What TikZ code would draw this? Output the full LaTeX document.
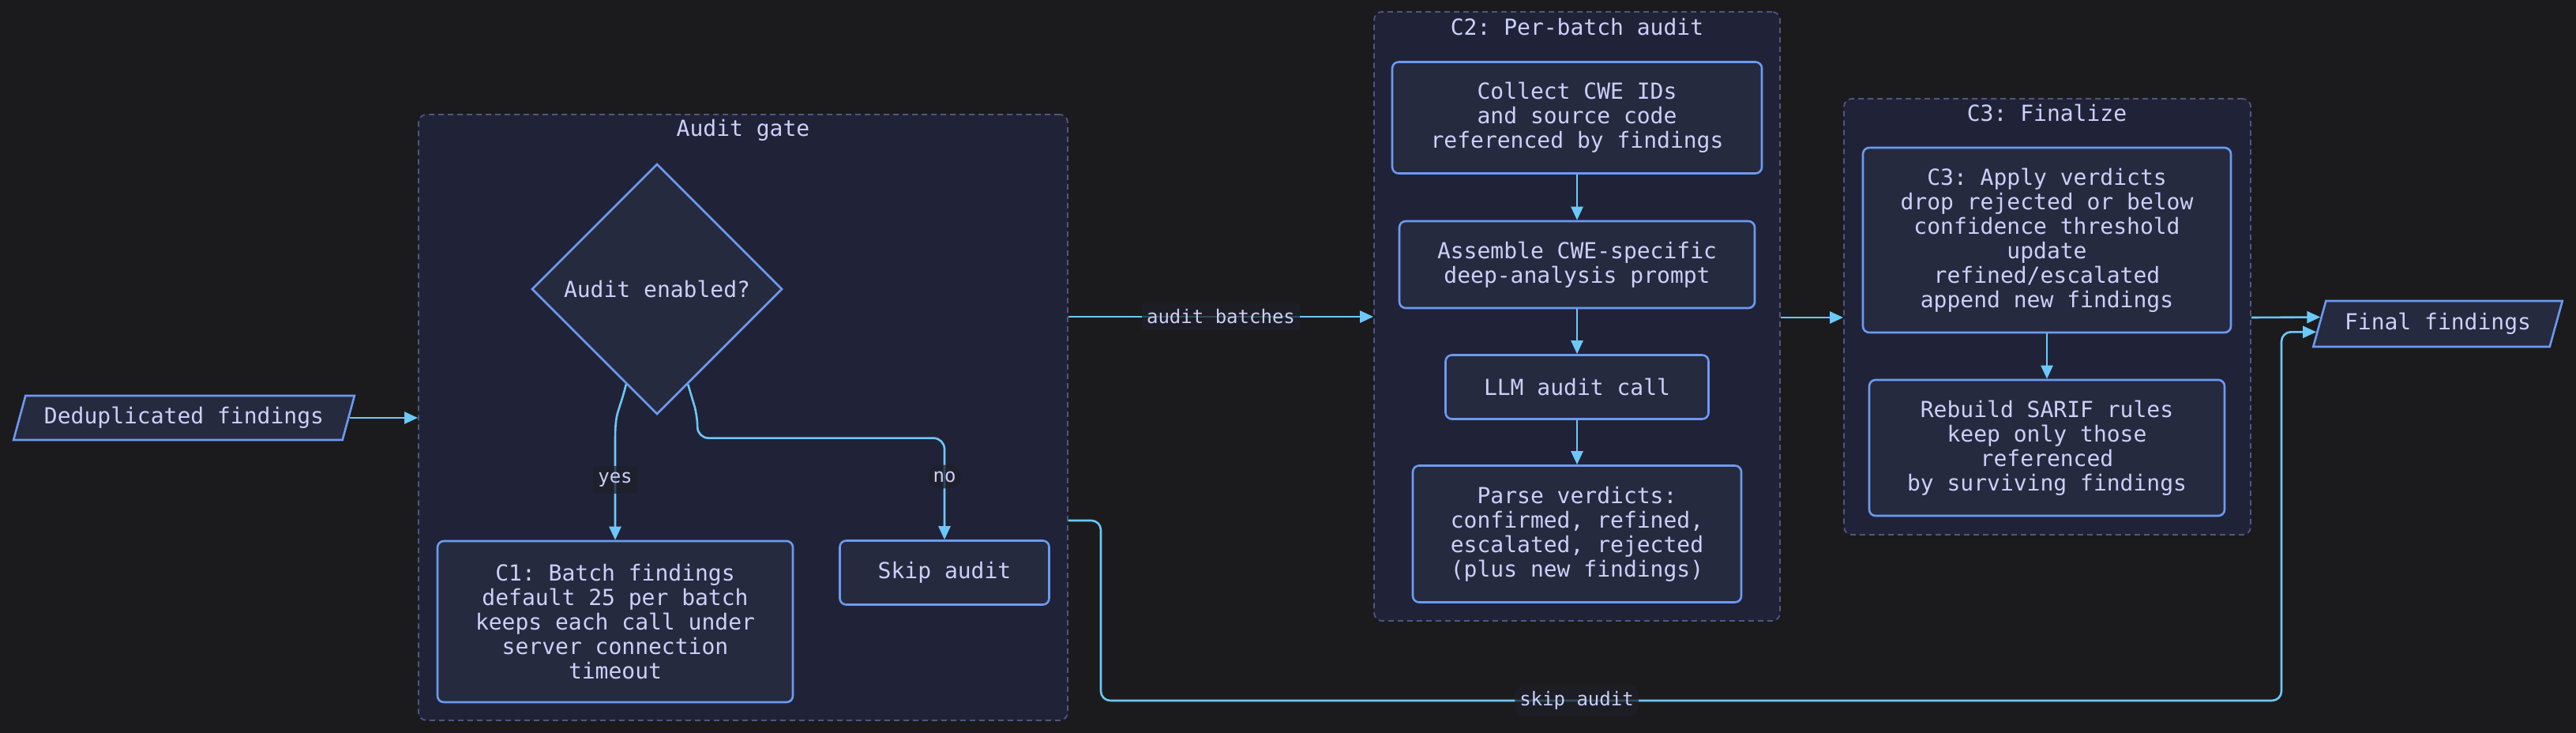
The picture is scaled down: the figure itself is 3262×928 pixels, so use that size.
\documentclass[tikz,border=0pt]{standalone}
\usepackage{fontspec}
\setmonofont{DejaVu Sans Mono}
\usepackage{tikz}
\usetikzlibrary{positioning,shapes.geometric,arrows.meta,calc}

\definecolor{bgc}{RGB}{27,27,29}
\definecolor{clusterfill}{RGB}{32,35,56}
\definecolor{clusterline}{RGB}{78,86,130}
\definecolor{nodefill}{RGB}{37,42,63}
\definecolor{nodeline}{RGB}{108,154,240}
\definecolor{arrowc}{RGB}{108,200,250}
\definecolor{txt}{RGB}{204,208,248}
\definecolor{lblbg}{RGB}{30,32,40}

\tikzset{
  proc/.style={draw=nodeline, fill=nodefill, line width=2.6pt, rounded corners=8pt,
    text=txt, align=center, inner sep=0pt, font=\ttfamily\fontsize{28}{31}\selectfont},
  io/.style={proc, sharp corners, trapezium, trapezium left angle=64,
    trapezium right angle=116, trapezium stretches=true},
  decide/.style={proc, sharp corners, diamond},
  cluster/.style={draw=clusterline, fill=clusterfill, line width=1.8pt,
    dash pattern=on 7pt off 5pt, rounded corners=10pt, inner sep=0pt},
  ctitle/.style={text=txt, inner sep=0pt, font=\ttfamily\fontsize{28}{31}\selectfont},
  flow/.style={draw=arrowc, line width=2.6pt, -{Triangle[length=17pt,width=15pt]}},
  elabel/.style={fill=lblbg, fill opacity=0.75, text opacity=1, text=txt,
    inner xsep=6pt, inner ysep=8pt, font=\ttfamily\fontsize{24}{26}\selectfont}
}

\begin{document}
\begin{tikzpicture}[x=1pt,y=-1pt]
      \fill[bgc] (0,0) rectangle (3262,928);
      \useasboundingbox (0,0) rectangle (3262,928);

      % Clusters
      \node[cluster, minimum width=822pt, minimum height=767pt] (gate) at (941,528.5) {};
      \node[cluster, minimum width=514pt, minimum height=771pt] (c2) at (1997,400.5) {};
      \node[cluster, minimum width=515pt, minimum height=552pt] (c3) at (2592.5,401) {};

      \node[ctitle] (gatetitle) at (941,165) {Audit gate};
      \node[ctitle] (c2title) at (1997,34) {C2: Per-batch audit};
      \node[ctitle] (c3title) at (2592,143) {C3: Finalize};

      % Nodes
      \node[io, minimum width=432pt, minimum height=56pt] (dedup) at (233,529) {Deduplicated findings};
      \node[decide, minimum width=317pt, minimum height=317pt] (dia) at (832,366) {Audit enabled?};
      \node[proc, minimum width=450pt, minimum height=204pt] (c1) at (779,787)
        {C1: Batch findings\\default 25 per batch\\keeps each call under\\server connection\\timeout};
      \node[proc, minimum width=265pt, minimum height=81pt] (skip) at (1196,725) {Skip audit};

      \node[proc, minimum width=468pt, minimum height=141pt] (collect) at (1997,149)
        {Collect CWE IDs\\and source code\\referenced by findings};
      \node[proc, minimum width=450pt, minimum height=110pt] (assemble) at (1997,335)
        {Assemble CWE-specific\\deep-analysis prompt};
      \node[proc, minimum width=333pt, minimum height=81pt] (llm) at (1997,490) {LLM audit call};
      \node[proc, minimum width=416pt, minimum height=173pt] (parse) at (1997,676)
        {Parse verdicts:\\confirmed, refined,\\escalated, rejected\\(plus new findings)};

      \node[proc, minimum width=466pt, minimum height=234pt] (apply) at (2592,304)
        {C3: Apply verdicts\\drop rejected or below\\confidence threshold\\update\\refined/escalated\\append new findings};
      \node[proc, minimum width=450pt, minimum height=172pt] (rebuild) at (2592,567)
        {Rebuild SARIF rules\\keep only those\\referenced\\by surviving findings};

      \node[io, minimum width=316pt, minimum height=58pt] (final) at (3087,410) {Final findings};

      \coordinate (fin1) at ($(final.top left corner)!0.36!(final.bottom left corner)$);
      \coordinate (fin2) at ($(final.top left corner)!0.67!(final.bottom left corner)$);

      % Edges inside the clusters
      \foreach \u/\v in {collect/assemble,assemble/llm,llm/parse,apply/rebuild}
        \draw[flow] (\u) -- (\v);

      \draw[flow] (dia.252) .. controls +(-10,40) and +(0,-40) .. ($(c1.north)+(0,-125)$)
        -- node[elabel, pos=0.39] {yes} (c1.north);
      \draw[flow, rounded corners=14pt] (dia.288) -- ++(12,40) -- ++(0,28)
        -| node[elabel, pos=0.69] {no} (skip.north);

      % Edges between the clusters
      \draw[flow] (dedup.east) -- (gate.west |- dedup.east);
      \draw[flow] (gate.east |- 0,401) -- node[elabel] {audit batches} (c2.west |- 0,401);
      \draw[flow] (c2.east |- 0,402) -- (c3.west |- 0,402);
      \draw[flow] (c3.east |- 0,402) -- (fin1);
      \draw[flow, rounded corners=12pt] (gate.east |- 0,659) -| (1394,887)
        -- node[elabel, pos=0.403] {skip audit} (2889,887) |- (fin2);

\end{tikzpicture}
\end{document}
